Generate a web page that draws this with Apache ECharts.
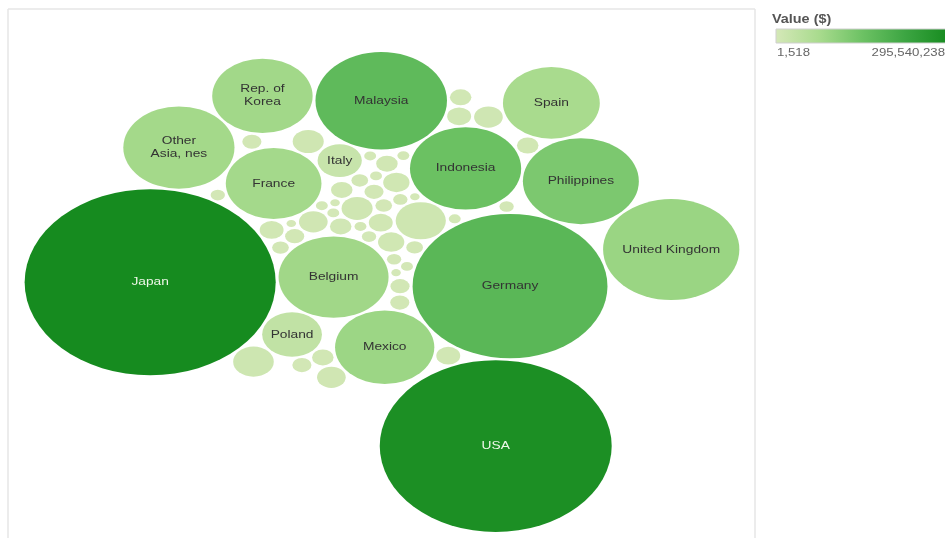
<!DOCTYPE html>
<html>
<head>
<meta charset="utf-8">
<script src="https://cdn.jsdelivr.net/npm/echarts@6/dist/echarts.min.js"></script>
<style>
  html, body { margin: 0; padding: 0; background: #ffffff; }
  #main { width: 945px; height: 538px; }
</style>
</head>
<body>
<div id="main"></div>
<script>
// Trading partners, listed in the order the bubbles are packed (alphabetical).
const countries = [
  'Algeria', 'Argentina', 'Australia', 'Austria', 'Bangladesh', 'Belgium', 'Brazil',
  'Cambodia', 'Canada', 'Chile', 'China, Hong Kong SAR', 'China, Macao SAR', 'Colombia',
  'Czech Rep.', 'Denmark', 'Egypt', 'Finland', 'France', 'Germany', 'Greece', 'Hungary',
  'India', 'Indonesia', 'Ireland', 'Israel', 'Italy', 'Japan', 'Kenya', 'Kuwait',
  'Malaysia', 'Mexico', 'Morocco', 'Netherlands', 'New Zealand', 'Nigeria', 'Norway',
  'Other Asia, nes', 'Pakistan', 'Peru', 'Philippines', 'Poland', 'Portugal',
  'Rep. of Korea', 'Romania', 'Russian Federation', 'Saudi Arabia', 'Singapore',
  'Slovakia', 'South Africa', 'Spain', 'Sri Lanka', 'Sweden', 'Switzerland', 'Thailand',
  'Tunisia', 'Turkey', 'Ukraine', 'United Arab Emirates', 'United Kingdom', 'USA', 'Viet Nam'
];

// Trade value in US$ (drives the colour).
const tradeValue = [
  3412880, 6120455, 9874310, 7215904, 2603117, 84312560, 8102336,
  1934250, 9011742, 4120985, 11830664, 1106321, 2518470,
  5340211, 6402119, 3017735, 4488120, 79845120, 176903447, 3260914, 5817460,
  8406533, 151276884, 4702286, 6998105, 22918305, 295540238, 1518, 2890144,
  168402991, 90117634, 2201587, 10506218, 6233870, 1120462, 4306659,
  80556210, 5508341, 2714906, 128733905, 33684122, 5119874,
  82964318, 3548067, 7706129, 6551308, 9420775,
  3309661, 5724093, 74205883, 2380560, 6689402, 7320016, 12611370,
  1457921, 6840057, 2950338, 5630781, 92631470, 284117026, 9160248
];

// Shipped quantity in tonnes (drives the bubble area).
const quantity = [
  250, 810, 1690, 1000, 360, 21160, 1210,
  250, 1440, 490, 4410, 160, 250,
  640, 810, 360, 490, 16000, 66420, 360, 640,
  1210, 21620, 490, 1000, 3420, 110250, 160, 250,
  30250, 17220, 250, 1690, 810, 160, 490,
  21620, 640, 250, 23520, 6250, 640,
  17640, 360, 1000, 810, 1440,
  360, 640, 16400, 250, 810, 1000, 2890,
  160, 810, 250, 640, 32490, 94090, 1440
];

// Colour ramp shared by the bubbles and the legend bar.
const greenRamp = ['#d5e8b8', '#a9db8e', '#6dc264', '#3ca542', '#168b1f'];

// ---- packed-bubble layout -------------------------------------------------
// Each bubble is dropped, in list order, at the free spot closest to the
// centre (elliptical distance, so the pack spreads a bit wider than tall).
function packBubbles(radii, pad, aspect) {
  const placed = [];
  const cost = (x, y) => (x / aspect) * (x / aspect) + y * y;
  radii.forEach((r0, k) => {
    const r = r0 + pad;
    if (k === 0) { placed.push({ x: 0, y: 0, r }); return; }
    let best = null, bestC = Infinity;
    const tryPoint = (x, y) => {
      const c = cost(x, y);
      if (c >= bestC) return;
      for (const p of placed) {
        const dx = x - p.x, dy = y - p.y, rr = p.r + r;
        if (dx * dx + dy * dy < rr * rr - 1e-4) return;
      }
      best = { x, y }; bestC = c;
    };
    if (k === 1) {
      const p = placed[0];
      tryPoint(p.x - p.r - r, p.y);
      tryPoint(p.x + p.r + r, p.y);
    }
    for (let i = 0; i < placed.length; i++) {
      for (let j = i + 1; j < placed.length; j++) {
        const A = placed[i], B = placed[j];
        const ra = A.r + r, rb = B.r + r;
        const dx = B.x - A.x, dy = B.y - A.y;
        const d = Math.hypot(dx, dy);
        if (d === 0 || d > ra + rb || d < Math.abs(ra - rb)) continue;
        const a = (ra * ra - rb * rb + d * d) / (2 * d);
        const h = Math.sqrt(Math.max(0, ra * ra - a * a));
        const mx = A.x + a * dx / d, my = A.y + a * dy / d;
        tryPoint(mx - h * dy / d, my + h * dx / d);
        tryPoint(mx + h * dy / d, my - h * dx / d);
      }
    }
    if (!best) {
      const p = placed[0];
      best = { x: p.x + p.r + r, y: p.y };
    }
    placed.push({ x: best.x, y: best.y, r });
  });
  return placed.map((p, i) => ({ x: p.x, y: p.y, r: radii[i] }));
}

const maxQty = Math.max(...quantity);
const radii = quantity.map(q => Math.sqrt(q / maxQty) * 100);
const layout = packBubbles(radii, 1.2, 1.2);

// Bounding box of the pack.
let bx0 = Infinity, bx1 = -Infinity, by0 = Infinity, by1 = -Infinity;
layout.forEach(p => {
  bx0 = Math.min(bx0, p.x - p.r); bx1 = Math.max(bx1, p.x + p.r);
  by0 = Math.min(by0, p.y - p.r); by1 = Math.max(by1, p.y + p.r);
});

// Plot pane in pixels; the pane is wider than the pack, so bubbles come out oval.
const pane = { left: 9, top: 52, right: 755, bottom: 532 };
const paneW = pane.right - pane.left, paneH = pane.bottom - pane.top;
let ky = paneH / (by1 - by0);
let kx = paneW / (bx1 - bx0);
const stretch = Math.min(1.35, Math.max(1.15, kx / ky));
if (kx / ky > stretch) kx = ky * stretch; else ky = kx / stretch;
const cxb = (bx0 + bx1) / 2, cyb = (by0 + by1) / 2;
const xMin = cxb - paneW / 2 / kx, xMax = cxb + paneW / 2 / kx;
const yMin = cyb - paneH / 2 / ky, yMax = cyb + paneH / 2 / ky;

const vMin = Math.min(...tradeValue), vMax = Math.max(...tradeValue);
const fmt = v => v.toLocaleString('en-US');

const data = layout.map((p, i) => [p.x, p.y, p.r, tradeValue[i], i]);

// Text measuring for deciding whether a label fits inside its bubble.
const measureCtx = document.createElement('canvas').getContext('2d');
const LABEL_FONT = '11px "Liberation Sans", Arial, sans-serif';
measureCtx.font = LABEL_FONT;
const TEXT_STRETCH = 1.25;
const textW = s => measureCtx.measureText(s).width * TEXT_STRETCH;

function fitLabel(name, rx, ry) {
  if (ry < 15) return null;
  const room = 2 * rx * 0.83;
  if (textW(name) <= room) return name;
  const words = name.split(' ');
  if (words.length < 2 || ry < 28) return null;
  let bestSplit = null, bestW = Infinity;
  for (let k = 1; k < words.length; k++) {
    const l1 = words.slice(0, k).join(' '), l2 = words.slice(k).join(' ');
    const w = Math.max(textW(l1), textW(l2));
    if (w < bestW) { bestW = w; bestSplit = l1 + '\n' + l2; }
  }
  return bestW <= room ? bestSplit : null;
}

function renderItem(params, api) {
  const c = api.coord([api.value(0), api.value(1)]);
  const sz = api.size([api.value(2), api.value(2)]);
  const rx = Math.abs(sz[0]), ry = Math.abs(sz[1]);
  const idx = api.value(4);
  const t = (api.value(3) - vMin) / (vMax - vMin);
  const children = [{
    type: 'circle',
    x: c[0], y: c[1], scaleX: rx / ry,
    shape: { cx: 0, cy: 0, r: ry },
    style: { fill: api.visual('color') }
  }];
  const label = fitLabel(countries[idx], rx, ry);
  if (label) {
    children.push({
      type: 'text',
      x: c[0], y: c[1], scaleX: TEXT_STRETCH,
      style: {
        text: label, x: 0, y: 0,
        font: LABEL_FONT, lineHeight: 13,
        fill: t > 0.75 ? '#eef7e8' : '#333333',
        align: 'center', verticalAlign: 'middle'
      }
    });
  }
  return { type: 'group', children };
}

const legendX = 776;
const chart = echarts.init(document.getElementById('main'), null, { renderer: 'canvas' });
chart.setOption({
  animation: false,
  backgroundColor: '#ffffff',
  grid: { left: pane.left, top: pane.top, width: paneW, height: paneH },
  xAxis: { type: 'value', show: false, min: xMin, max: xMax },
  yAxis: { type: 'value', show: false, inverse: true, min: yMin, max: yMax },
  visualMap: {
    show: false, type: 'continuous', dimension: 3, seriesIndex: 0,
    min: vMin, max: vMax, inRange: { color: greenRamp }
  },
  series: [{
    type: 'custom',
    coordinateSystem: 'cartesian2d',
    encode: { x: 0, y: 1 },
    data: data,
    renderItem: renderItem,
    clip: false
  }],
  graphic: [
    // pane frame
    { type: 'line', shape: { x1: 8, y1: 9, x2: 755, y2: 9 }, style: { stroke: '#e6e6e6', lineWidth: 1.5 } },
    { type: 'line', shape: { x1: 8, y1: 9, x2: 8, y2: 538 }, style: { stroke: '#e6e6e6', lineWidth: 1.5 } },
    { type: 'line', shape: { x1: 755, y1: 9, x2: 755, y2: 538 }, style: { stroke: '#e6e6e6', lineWidth: 1.5 } },
    // colour legend
    {
      type: 'text', x: 772, y: 20, scaleX: 1.2,
      style: { text: 'Value ($)', font: 'bold 12px "Liberation Sans", Arial, sans-serif', fill: '#555555', verticalAlign: 'middle' }
    },
    {
      type: 'rect', shape: { x: legendX, y: 29, width: 172, height: 14 },
      style: {
        stroke: '#cfcfcf', lineWidth: 1,
        fill: new echarts.graphic.LinearGradient(0, 0, 1, 0,
          greenRamp.map((col, i) => ({ offset: i / (greenRamp.length - 1), color: col })))
      }
    },
    {
      type: 'text', x: 777, y: 53, scaleX: 1.2,
      style: { text: fmt(vMin), font: '11px "Liberation Sans", Arial, sans-serif', fill: '#666666', verticalAlign: 'middle' }
    },
    {
      type: 'text', x: 945, y: 53, scaleX: 1.2,
      style: { text: fmt(vMax), font: '11px "Liberation Sans", Arial, sans-serif', fill: '#666666', align: 'right', verticalAlign: 'middle' }
    }
  ]
});
</script>
</body>
</html>
